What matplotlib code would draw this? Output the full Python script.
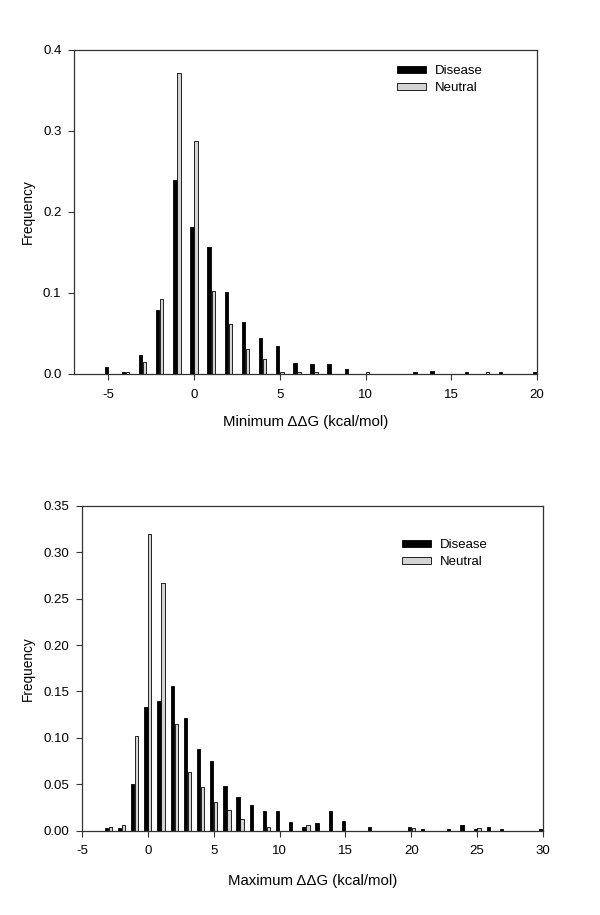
import matplotlib
matplotlib.use("Agg")
import matplotlib.pyplot as plt
import numpy as np

plt.rcParams['font.family'] = ['Liberation Sans', 'DejaVu Sans']
plt.rcParams['font.size'] = 9.5
plt.rcParams['axes.unicode_minus'] = False

# Top panel: Minimum ddG
min_bins = [-5, -4, -3, -2, -1, 0, 1, 2, 3, 4, 5, 6, 7, 8, 9, 10, 13, 14, 16, 17, 18, 20]
min_disease = [0.008, 0.002, 0.023, 0.079, 0.240, 0.182, 0.157, 0.101, 0.064, 0.045, 0.035,
               0.014, 0.012, 0.012, 0.006, 0.0, 0.002, 0.004, 0.002, 0.0, 0.002, 0.002]
min_neutral = [0.0, 0.003, 0.015, 0.093, 0.372, 0.288, 0.102, 0.062, 0.031, 0.018, 0.003,
               0.003, 0.003, 0.0, 0.0, 0.003, 0.0, 0.0, 0.0, 0.003, 0.0, 0.0]

# Bottom panel: Maximum ddG
max_bins = [-3, -2, -1, 0, 1, 2, 3, 4, 5, 6, 7, 8, 9, 10, 11, 12, 13, 14, 15, 17, 20, 21,
            23, 24, 25, 26, 27, 30]
max_disease = [0.0025, 0.0025, 0.050, 0.133, 0.140, 0.156, 0.121, 0.088, 0.075, 0.048, 0.036,
               0.028, 0.021, 0.021, 0.009, 0.0045, 0.0087, 0.021, 0.0105, 0.0043, 0.0043, 0.002,
               0.002, 0.0065, 0.002, 0.0043, 0.002, 0.002]
max_neutral = [0.0035, 0.0065, 0.102, 0.320, 0.267, 0.115, 0.063, 0.047, 0.031, 0.022, 0.013,
               0.0, 0.0035, 0.0, 0.0, 0.0065, 0.0, 0.0, 0.0, 0.0, 0.003, 0.0,
               0.0, 0.0, 0.003, 0.0, 0.0, 0.0]

labels = ["Disease", "Neutral"]

fig = plt.figure(figsize=(6, 9.15), dpi=100)
ax1 = fig.add_axes([0.1233, 0.5913, 0.7717, 0.3541])
ax2 = fig.add_axes([0.1367, 0.0921, 0.7683, 0.3552])


def draw(ax, bins, d, n, off, w, xlim, ylim, yticks, yfmt, xticks, xlabel, leg_anchor, xpad):
    b = np.array(bins, dtype=float)
    ax.bar(b - off, d, width=w, color='black', edgecolor='black', linewidth=0.6, label=labels[0])
    ax.bar(b + off, n, width=w, color='#d4d4d4', edgecolor='black', linewidth=0.6, label=labels[1])
    ax.set_xlim(*xlim)
    ax.set_ylim(*ylim)
    ax.set_yticks(yticks)
    ax.set_yticklabels([yfmt.format(v) for v in yticks])
    ax.set_xticks(xticks)
    ax.tick_params(direction='out', length=4, width=0.8, top=False, right=False,
                   labelsize=9.5, colors='#333333', labelcolor='black')
    ax.tick_params(axis='x', pad=6.5)
    ax.tick_params(axis='y', pad=5)
    for s in ax.spines.values():
        s.set_linewidth(0.9)
        s.set_color('#333333')
    ax.set_ylabel("Frequency", fontsize=9.8, labelpad=6)
    ax.set_xlabel(xlabel, fontsize=10.8, labelpad=xpad)
    ax.legend(loc='upper left', bbox_to_anchor=leg_anchor, frameon=False, borderpad=0,
              borderaxespad=0, handlelength=2.2, handleheight=0.45, handletextpad=0.65,
              labelspacing=0.35, fontsize=9.5)


draw(ax1, min_bins, min_disease, min_neutral, 0.12, 0.2, (-7, 20), (0, 0.4),
     [0.0, 0.1, 0.2, 0.3, 0.4], "{:.1f}", [-5, 0, 5, 10, 15, 20],
     "Minimum \u0394\u0394G (kcal/mol)", (0.6976, 0.953), 10.5)
draw(ax2, max_bins, max_disease, max_neutral, 0.15, 0.25, (-5, 30), (0, 0.35),
     [0.0, 0.05, 0.10, 0.15, 0.20, 0.25, 0.30, 0.35], "{:.2f}", [-5, 0, 5, 10, 15, 20, 25, 30],
     "Maximum \u0394\u0394G (kcal/mol)", (0.694, 0.897), 12)

fig.savefig("out.png", dpi=100)
